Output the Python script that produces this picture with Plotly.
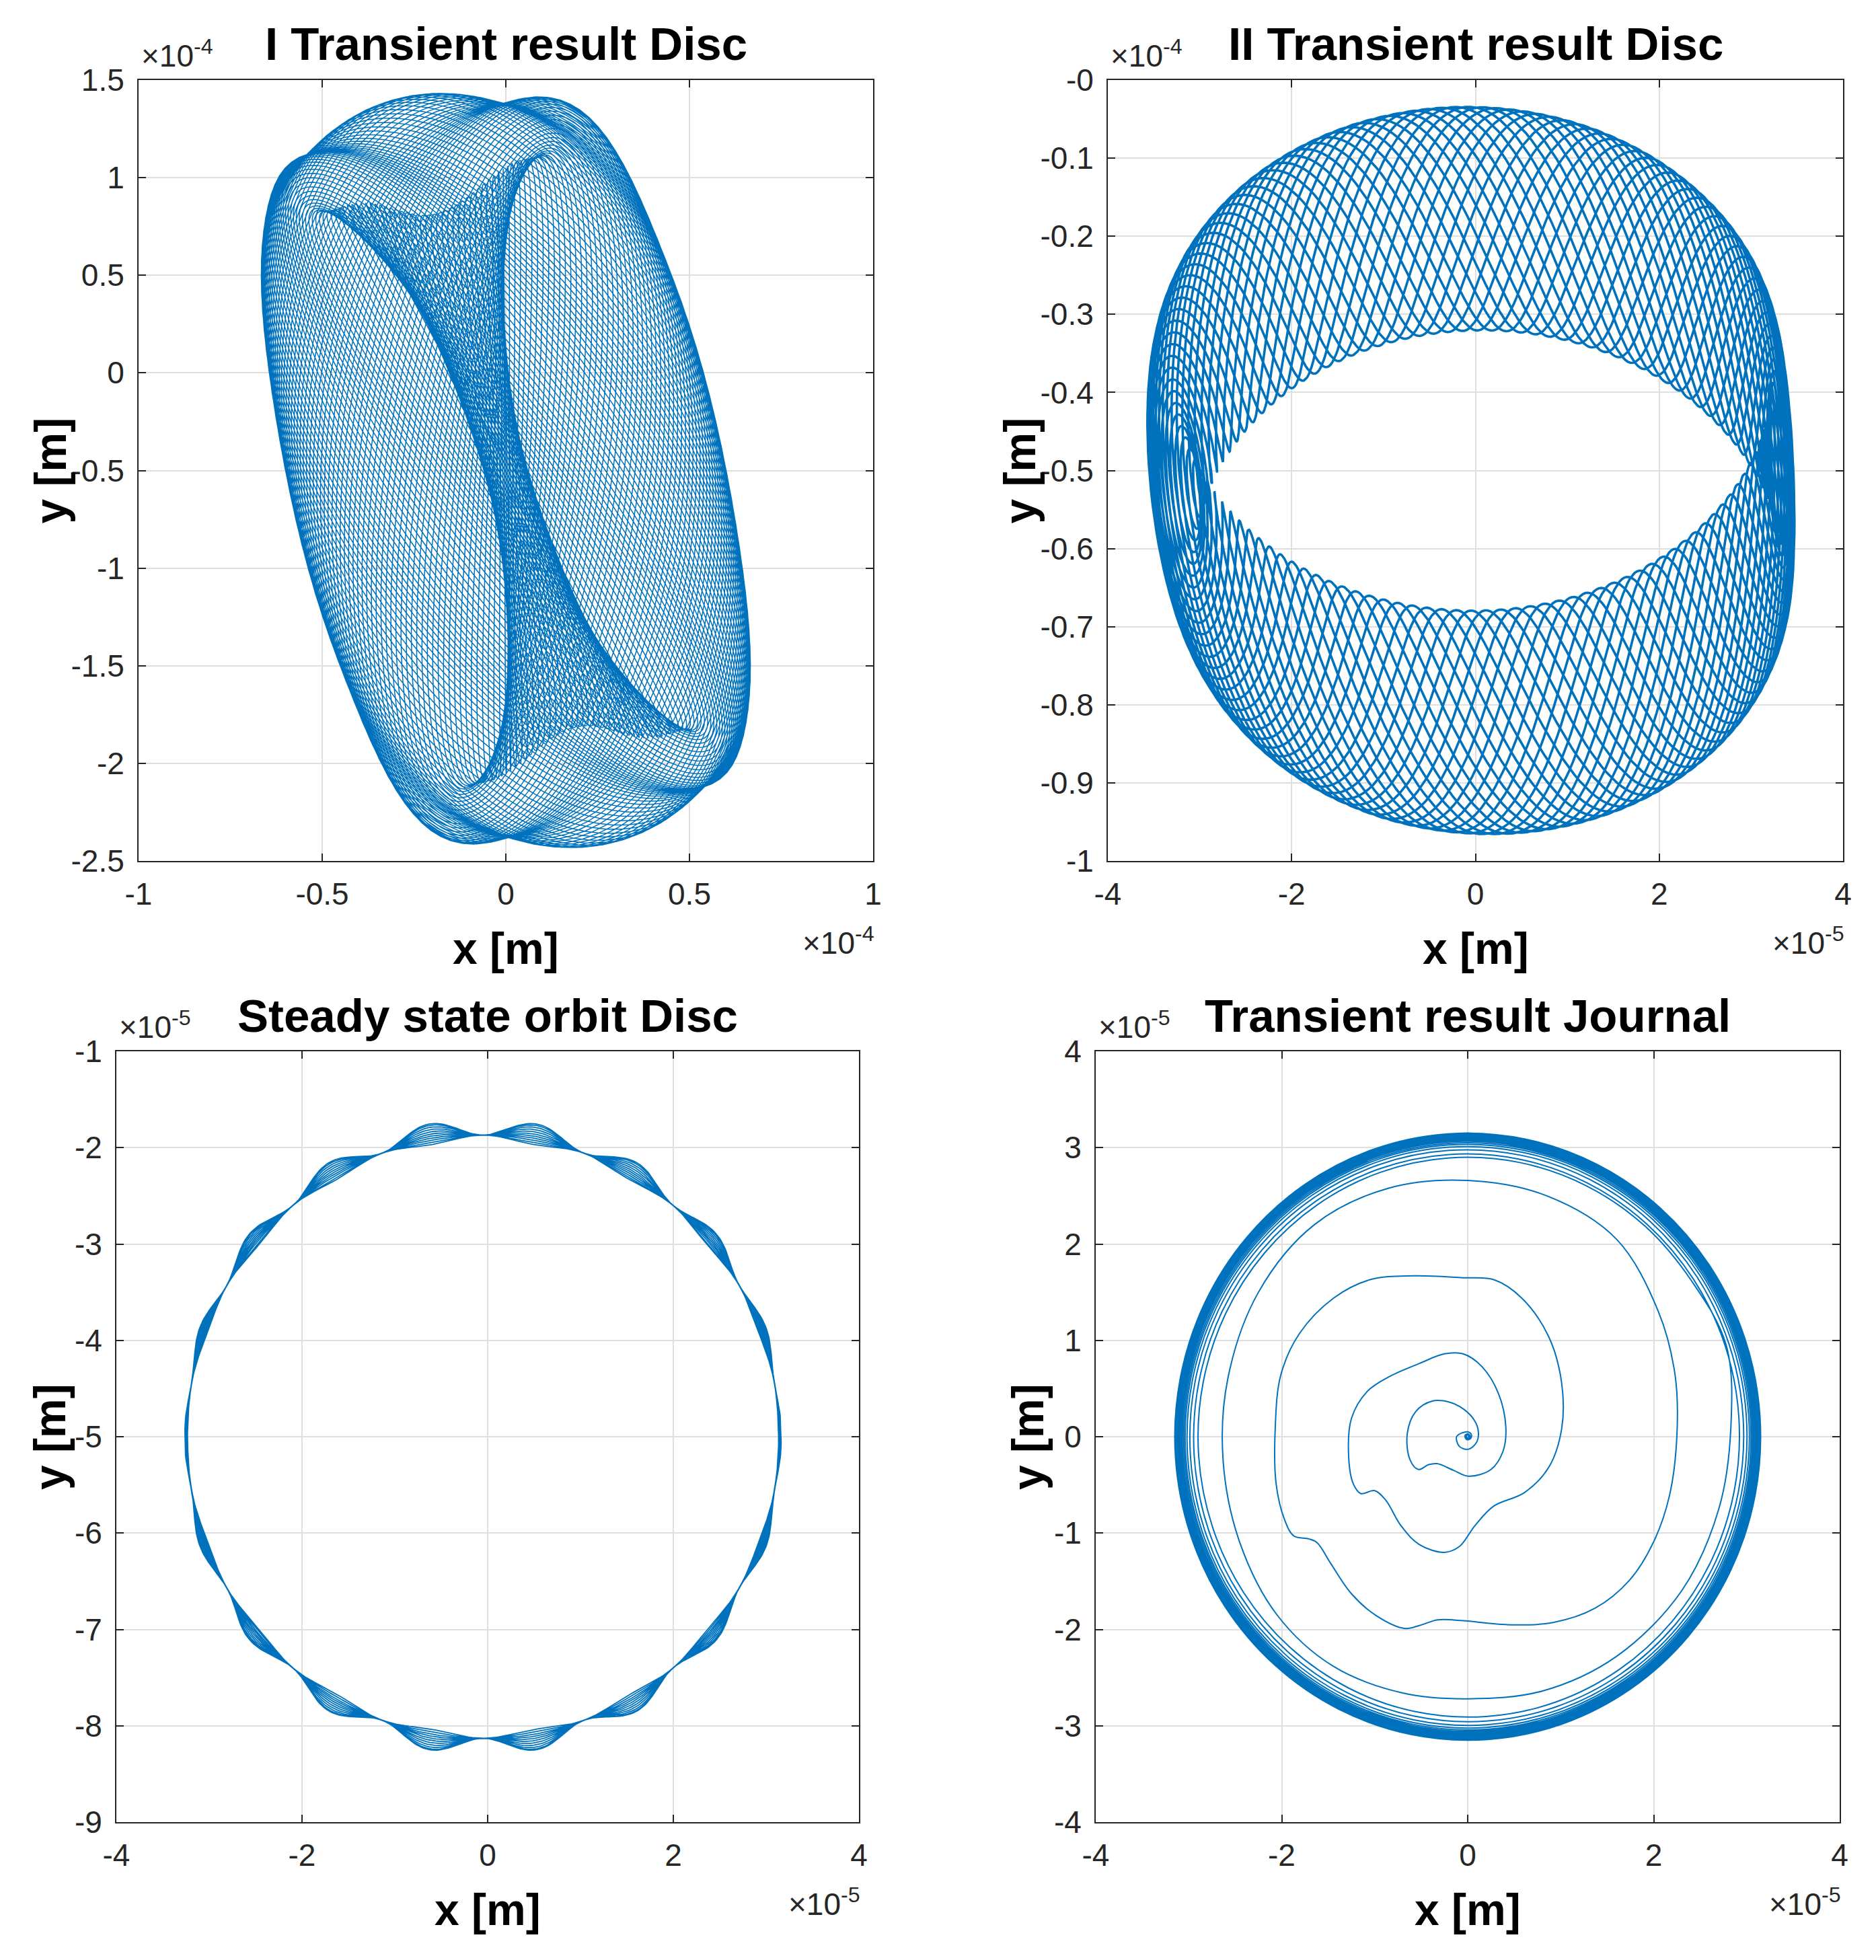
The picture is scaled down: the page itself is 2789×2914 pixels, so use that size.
import numpy as np
import plotly.graph_objects as go

W, H = 2789, 2914
OFF = 8          # page body margin of the exported html
BLUE = '#0072BD'
INK = '#262626'
FONT = 'Liberation Sans'

# -----------------------------
# I TRANSIENT RESULT DISC  (units 1e-4 m)
# x = Re(C e^{it}), y = Y cos t, with the complex x-amplitude C drifting round a circle
# -----------------------------
disc1_centre = [0.0, -0.5]
disc1_c_mid = [-0.20, 0.27]          # centre of the C drift circle (re, im)
disc1_c_rad = 0.33
disc1_c_start = -0.9                 # rad
disc1_y_amp = [1.62, 0.30, 60.0]     # mean, swing, phase of max (deg along drift)
disc1_y_ripple = [0.05, 5.0]         # ripple amplitude, ripples per run
disc1_cycles = 135

# -----------------------------
# II TRANSIENT RESULT DISC  (whirl orbit + fast vertical oscillation)
# -----------------------------
disc2_centre = [0.03e-5, -0.50e-4]
disc2_orbit = [3.28e-5, 0.32e-4, 0.45e-5, 0.04e-4]   # x semi-axis, y semi-axis, x lean, y lean
disc2_fast = [0.21e-5, 0.08e-5, 0.13e-4, -0.06e-4]   # x amp, x amp change left/right, y amp, y lean
disc2_revs = 21
disc2_fast_ratio = 6 + 8 / 21                         # fast cycles per orbit revolution

# -----------------------------
# STEADY STATE ORBIT DISC
# -----------------------------
ss_centre = [-0.05e-5, -5.0e-5]
ss_radius = [3.19e-5, 3.13e-5]
ss_lobes = 9
ss_lobe_amp = [0.02e-5, 0.15e-5]              # at sides, extra towards top/bottom
ss_rev_scale = [-0.3, -0.15, 0.0, 0.12, 0.25, 0.38, 0.52, 0.66, 0.8, 0.92, 1.0]

# -----------------------------
# TRANSIENT RESULT JOURNAL  (spiral waypoints, units 1e-5 m)
# -----------------------------
jr_x = [0.0, 0.02, 0.0, -0.02, 0.0, 0.02, 0.0, -0.02, 0.01, 0.03, 0.0, -0.03, -0.01, 0.03, 0.04,
        0.0, -0.06,
        -0.12, -0.09, 0.01, 0.10, 0.11, 0.05, -0.08, -0.2, -0.38, -0.56, -0.65, -0.62, -0.53, -0.42,
        -0.33, -0.15, 0.01, 0.25, 0.38, 0.41, 0.33, 0.15, -0.05, -0.25, -0.52, -0.85, -1.08, -1.25,
        -1.28, -1.23, -1.15, -1.0, -0.88, -0.72, -0.52, -0.25, -0.09, 0.08, 0.28, 0.61, 0.87, 1.01,
        1.01, 0.87, 0.58, 0.28, -0.05, -0.58, -1.05, -1.44, -1.81, -2.01, -2.07, -2.06, -1.97, -1.87,
        -1.71, -1.62, -1.47, -1.25, -0.98, -0.68, -0.52, -0.32, -0.05, 0.41, 0.91, 1.37, 1.74, 2.0,
        2.17, 2.25, 2.23, 2.05, 1.6, 0.85, 0.0, -0.85, -1.65, -2.25, -2.58, -2.63, -2.45, -2.05,
        -1.45, -0.7, 0.0, 0.8, 1.6, 2.3, 2.7, 2.83, 2.78]
jr_y = [0.0, 0.01, 0.02, 0.0, -0.02, 0.0, 0.03, 0.01, -0.02, 0.0, 0.03, 0.01, -0.03, -0.02, 0.02,
        0.05, 0.04,
        0.0, -0.10, -0.13, -0.05, 0.08, 0.2, 0.31, 0.36, 0.37, 0.26, 0.03, -0.24, -0.34, -0.29,
        -0.28, -0.35, -0.41, -0.34, -0.15, 0.1, 0.45, 0.73, 0.86, 0.86, 0.76, 0.62, 0.47, 0.19,
        -0.21, -0.49, -0.59, -0.56, -0.66, -0.92, -1.12, -1.2, -1.14, -0.92, -0.72, -0.58, -0.32, 0.08,
        0.56, 1.04, 1.44, 1.63, 1.65, 1.67, 1.63, 1.44, 1.07, 0.64, 0.08, -0.49, -0.86, -1.03,
        -1.06, -1.1, -1.32, -1.63, -1.86, -1.99, -1.96, -1.9, -1.91, -1.95, -1.93, -1.78, -1.49, -1.09,
        -0.61, 0.02, 0.64, 1.3, 2.05, 2.5, 2.66, 2.58, 2.2, 1.5, 0.6, -0.25, -1.1, -1.85,
        -2.38, -2.66, -2.72, -2.64, -2.28, -1.6, -0.75, 0.1, 0.95]
# outer turns settling on the limit cycle
jr_turn_radius = [2.90, 2.95, 2.99, 3.02, 3.04, 3.055, 3.07, 3.08, 3.09, 3.10, 3.105, 3.11,
                  3.115, 3.12, 3.125, 3.13, 3.133, 3.136, 3.139, 3.142, 3.145, 3.147, 3.149,
                  3.15, 3.15, 3.15]


def disc1_curve():
    t = np.linspace(0, 2 * np.pi * disc1_cycles, disc1_cycles * 90)
    s = t / t[-1]
    phi = disc1_c_start + 2 * np.pi * s
    c = complex(*disc1_c_mid) + disc1_c_rad * np.exp(1j * phi)
    amp_y = disc1_y_amp[0] + disc1_y_amp[1] * np.cos(phi - np.radians(disc1_y_amp[2]))
    amp_y = amp_y + disc1_y_ripple[0] * np.cos(2 * np.pi * disc1_y_ripple[1] * s)
    x = disc1_centre[0] + np.real(c * np.exp(1j * t))
    y = disc1_centre[1] + amp_y * np.cos(t)
    return x * 1e-4, y * 1e-4


def disc2_curve():
    n_fast = disc2_revs * disc2_fast_ratio
    th = np.linspace(0, 2 * np.pi * disc2_revs, int(n_fast * 70) + 1)
    ph = disc2_fast_ratio * th
    w = disc2_fast[0] - disc2_fast[1] * np.cos(th)
    x = (disc2_centre[0] + disc2_orbit[0] * np.cos(th) - disc2_orbit[2] * np.sin(th)
         + w * np.cos(ph))
    y = (disc2_centre[1] + disc2_orbit[1] * np.sin(th) + disc2_orbit[3] * np.cos(th)
         + disc2_fast[2] * np.sin(ph) + disc2_fast[3] * np.cos(ph))
    return x, y


def ss_curve():
    revs = len(ss_rev_scale)
    th = np.linspace(0, 2 * np.pi * revs, revs * 720 + 1)
    s = np.interp(th / (2 * np.pi), np.arange(revs) + 0.5, ss_rev_scale)
    w = ss_lobe_amp[0] + ss_lobe_amp[1] * np.abs(np.sin(th))
    d = s * w * np.cos(ss_lobes * th) ** 2
    x = ss_centre[0] + (ss_radius[0] + d) * np.cos(th)
    y = ss_centre[1] + (ss_radius[1] + d) * np.sin(th)
    return x, y


def journal_curve():
    th0 = np.arctan2(jr_y[-1], jr_x[-1])
    n = len(jr_turn_radius)
    k = np.arange(1, n * 24 + 1)
    th = th0 + k * 2 * np.pi / 24
    r = np.interp(k / 24.0, np.arange(n) + 0.5, jr_turn_radius)
    x = np.concatenate([jr_x, r * np.cos(th)])
    y = np.concatenate([jr_y, r * np.sin(th)])
    return x * 1e-5, y * 1e-5


def px_x(p):
    return (p - OFF) / W


def px_y(p):
    return 1 - (p - OFF) / H


# panel boxes in pixels: left, right, top, bottom
boxes = [(206, 1298, 119, 1280), (1647, 2740, 119, 1280),
         (173, 1277, 1563, 2709), (1629, 2735, 1563, 2709)]


def axis_style(rng, vals, labels, domain, anchor, standoff):
    return dict(range=rng, domain=domain, anchor=anchor, tickvals=vals, ticktext=labels,
                showgrid=True, gridcolor='#dfdfdf', gridwidth=1.5, zeroline=False,
                showline=True, mirror='allticks', linecolor=INK, linewidth=2,
                ticks='inside', ticklen=11, tickwidth=2, tickcolor=INK, automargin=False,
                ticklabelstandoff=standoff,
                tickfont=dict(family=FONT, size=46, color=INK))


def ticks(lo, hi, step, scale):
    v = np.round(np.arange(lo, hi + step / 2, step), 6)
    return [float(a) * scale for a in v], ['%g' % a for a in v]


fig = go.Figure()
curves = [disc1_curve(), disc2_curve(), ss_curve(), journal_curve()]
widths = [1.5, 3.6, 1.8, 2.0]
shapes = ['linear', 'linear', 'linear', 'spline']
for i, (cx, cy) in enumerate(curves):
    suffix = '' if i == 0 else str(i + 1)
    fig.add_trace(go.Scatter(x=cx, y=cy, mode='lines', xaxis='x' + suffix, yaxis='y' + suffix,
                             line=dict(color=BLUE, width=widths[i], shape=shapes[i]),
                             showlegend=False, hoverinfo='skip'))

axis_ticks = [
    (ticks(-1, 1, 0.5, 1e-4), ticks(-2.5, 1.5, 0.5, 1e-4), [-1e-4, 1e-4], [-2.5e-4, 1.5e-4]),
    (ticks(-4, 4, 2, 1e-5), ticks(-1, 0, 0.1, 1e-4), [-4e-5, 4e-5], [-1e-4, 0]),
    (ticks(-4, 4, 2, 1e-5), ticks(-9, -1, 1, 1e-5), [-4e-5, 4e-5], [-9e-5, -1e-5]),
    (ticks(-4, 4, 2, 1e-5), ticks(-4, 4, 1, 1e-5), [-4e-5, 4e-5], [-4e-5, 4e-5]),
]
titles = ['I Transient result Disc', 'II Transient result Disc',
          'Steady state orbit Disc', 'Transient result Journal']
y_exp = ['-4', '-4', '-5', '-5']
x_exp = ['-4', '-5', '-5', '-5']
ylab_x = [74, 1515, 74, 1528]

layout = dict(width=W, height=H, margin=dict(l=0, r=0, t=0, b=0, pad=0, autoexpand=False),
              paper_bgcolor='white', plot_bgcolor='white', annotations=[], showlegend=False)
for i, (l, r, t, b) in enumerate(boxes):
    suffix = '' if i == 0 else str(i + 1)
    (xv, xt), (yv, yt), xr, yr = axis_ticks[i]
    layout['xaxis' + suffix] = axis_style(xr, xv, xt, [px_x(l), px_x(r)], 'y' + suffix, 8)
    layout['yaxis' + suffix] = axis_style(yr, yv, yt, [px_y(b), px_y(t)], 'x' + suffix, 10)
    cx = (l + r) / 2
    title_y = 65 if i < 2 else 1510
    layout['annotations'] += [
        dict(text='<b>%s</b>' % titles[i], x=px_x(cx), y=px_y(title_y), xref='paper', yref='paper',
             showarrow=False, xanchor='center', yanchor='middle',
             font=dict(family=FONT, size=69, color='black')),
        dict(text='<b>x [m]</b>', x=px_x(cx), y=px_y(b + 130), xref='paper', yref='paper',
             showarrow=False, xanchor='center', yanchor='middle',
             font=dict(family=FONT, size=66, color='black')),
        dict(text='<b>y [m]</b>', x=px_x(ylab_x[i]), y=px_y((t + b) / 2), xref='paper', yref='paper',
             showarrow=False, xanchor='center', yanchor='middle', textangle=-90,
             font=dict(family=FONT, size=66, color='black')),
        dict(text='×10<sup>%s</sup>' % y_exp[i], x=px_x(l + 2), y=px_y(t - 8), xref='paper',
             yref='paper', showarrow=False, xanchor='left', yanchor='bottom',
             font=dict(family=FONT, size=46, color=INK)),
        dict(text='×10<sup>%s</sup>' % x_exp[i], x=px_x(r + 4), y=px_y(b + 150), xref='paper',
             yref='paper', showarrow=False, xanchor='right', yanchor='bottom',
             font=dict(family=FONT, size=46, color=INK)),
    ]

fig.update_layout(**layout)
fig.write_html("out.html")
